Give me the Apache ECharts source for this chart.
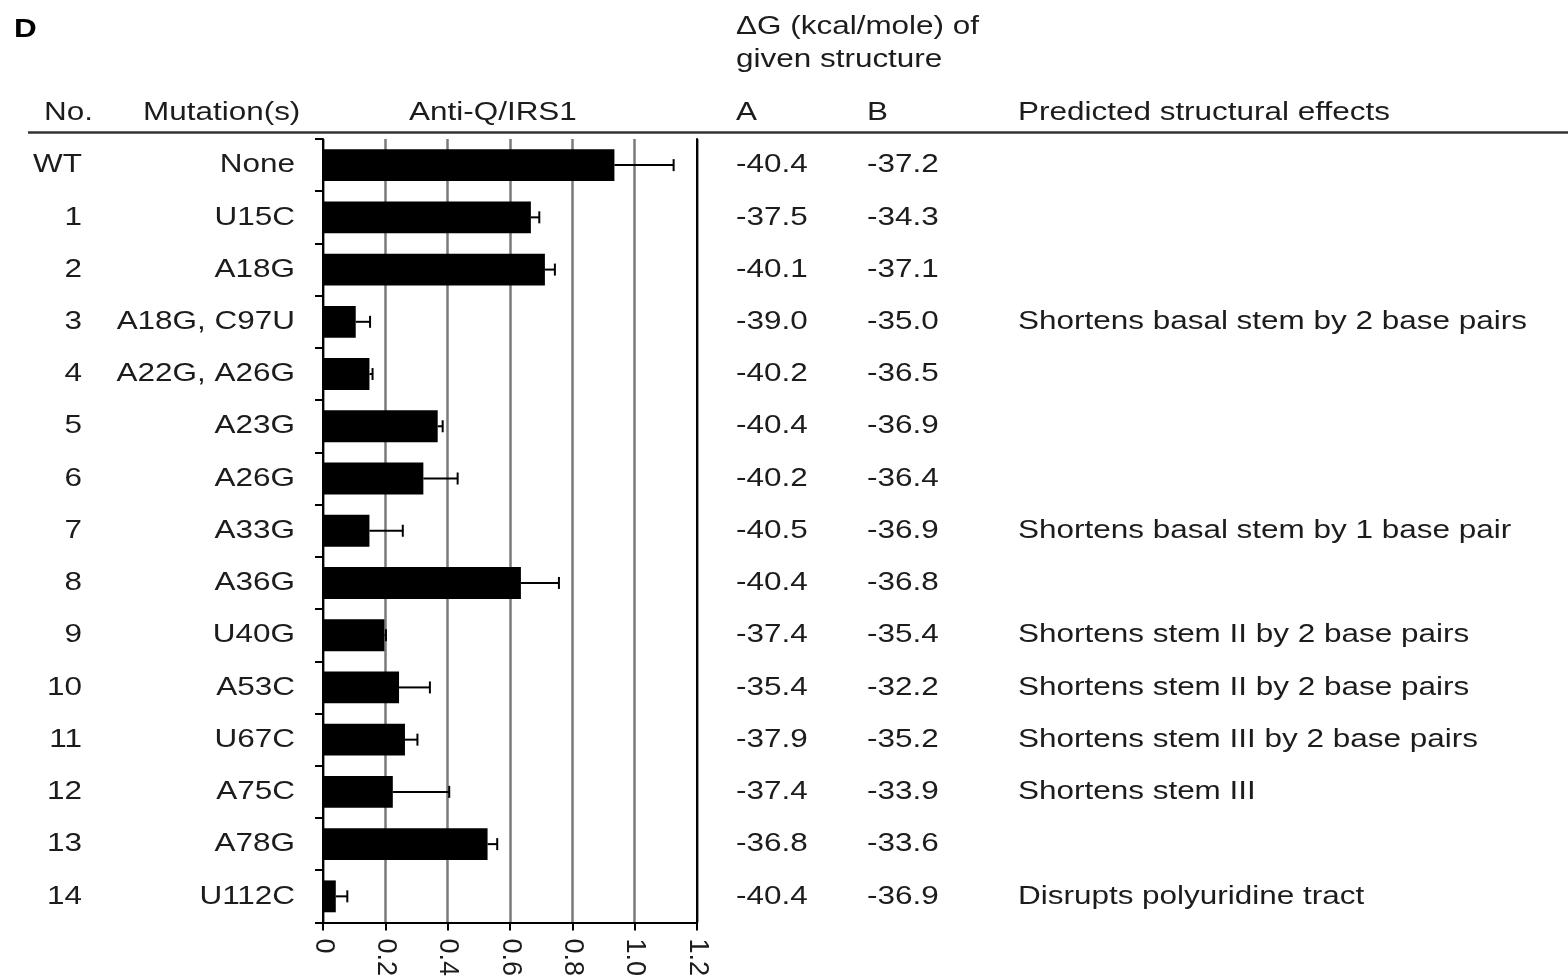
<!DOCTYPE html>
<html>
<head>
<meta charset="utf-8">
<script src="https://cdn.jsdelivr.net/npm/echarts@6/dist/echarts.min.js"></script>
<style>
  html, body { margin: 0; padding: 0; background: #ffffff; }
  #chart { width: 1568px; height: 979px; }
</style>
</head>
<body>
<div id="chart"></div>
<script>
// Table rows: construct number, mutations and measured Anti-Q/IRS1 activity
const rowNumbers = ['WT', '1', '2', '3', '4', '5', '6', '7', '8', '9', '10', '11', '12', '13', '14'];
const mutations = ['None', 'U15C', 'A18G', 'A18G, C97U', 'A22G, A26G', 'A23G', 'A26G', 'A33G',
  'A36G', 'U40G', 'A53C', 'U67C', 'A75C', 'A78G', 'U112C'];
const activity = [0.935, 0.667, 0.712, 0.105, 0.149, 0.368, 0.322, 0.149, 0.635, 0.197,
  0.244, 0.263, 0.224, 0.528, 0.041];
const activityErr = [0.19, 0.027, 0.032, 0.046, 0.010, 0.016, 0.110, 0.107, 0.122, 0.005,
  0.099, 0.040, 0.181, 0.031, 0.037];
// Free energies (kcal/mole) of structures A and B
const dGA = ['-40.4', '-37.5', '-40.1', '-39.0', '-40.2', '-40.4', '-40.2', '-40.5', '-40.4',
  '-37.4', '-35.4', '-37.9', '-37.4', '-36.8', '-40.4'];
const dGB = ['-37.2', '-34.3', '-37.1', '-35.0', '-36.5', '-36.9', '-36.4', '-36.9', '-36.8',
  '-35.4', '-32.2', '-35.2', '-33.9', '-33.6', '-36.9'];
const effects = ['', '', '', 'Shortens basal stem by 2 base pairs', '', '', '',
  'Shortens basal stem by 1 base pair', '', 'Shortens stem II by 2 base pairs',
  'Shortens stem II by 2 base pairs', 'Shortens stem III by 2 base pairs',
  'Shortens stem III', '', 'Disrupts polyuridine tract'];
// Activity axis
const axisMin = 0, axisMax = 1.2, axisStep = 0.2;

const FONT = '"Liberation Sans", Arial, Helvetica, sans-serif';
const TEXT = '#1c1c1c';
const FONT_SIZE = 26;
const WIDE = 1.21; // horizontal widening of the table lettering

// Table columns: text source, anchor x and alignment
const columns = [
  { texts: rowNumbers, x: 82, align: 'right' },
  { texts: mutations, x: 295, align: 'right' },
  { texts: dGA, x: 736, align: 'left' },
  { texts: dGB, x: 867, align: 'left' },
  { texts: effects, x: 1018, align: 'left' }
];

const chart = echarts.init(document.getElementById('chart'), null, { renderer: 'canvas' });

function headerText(str, x, y, bold) {
  return {
    type: 'text',
    x: x,
    y: y,
    scaleX: WIDE,
    style: {
      text: str,
      font: (bold ? 'bold ' : '') + FONT_SIZE + 'px ' + FONT,
      fill: bold ? '#000' : TEXT,
      align: 'left',
      verticalAlign: 'middle'
    }
  };
}

const option = {
  backgroundColor: '#ffffff',
  animation: false,
  grid: { left: 323, right: 871, top: 139, bottom: 56, containLabel: false },
  xAxis: {
    type: 'value',
    min: axisMin,
    max: axisMax,
    interval: axisStep,
    axisLine: { show: true, lineStyle: { color: '#000', width: 2 } },
    axisTick: { show: true, length: 8, lineStyle: { color: '#000', width: 2 } },
    splitLine: { show: true, lineStyle: { color: '#7a7a7a', width: 2.5 } },
    axisLabel: {
      rotate: -90,
      margin: 16,
      fontFamily: FONT,
      fontSize: 27,
      color: TEXT,
      formatter: v => (v === 0 ? '0' : v.toFixed(1))
    }
  },
  yAxis: [
    {
      type: 'category',
      data: mutations,
      inverse: true,
      position: 'left',
      axisLine: { show: true, lineStyle: { color: '#000', width: 2 } },
      axisTick: { show: true, length: 8, lineStyle: { color: '#000', width: 2 } },
      splitLine: { show: false },
      axisLabel: { show: false }
    },
    {
      type: 'category',
      data: mutations,
      inverse: true,
      position: 'right',
      axisLine: { show: true, lineStyle: { color: '#000', width: 2 } },
      axisTick: { show: false },
      splitLine: { show: false },
      axisLabel: { show: false }
    }
  ],
  series: [
    {
      type: 'bar',
      xAxisIndex: 0,
      yAxisIndex: 0,
      data: activity,
      barCategoryGap: '39%',
      itemStyle: { color: '#000' },
      z: 3
    },
    {
      // one-sided error bars with end caps
      type: 'custom',
      xAxisIndex: 0,
      yAxisIndex: 0,
      z: 4,
      data: activity.map((v, i) => [i, v, v + activityErr[i]]),
      encode: { x: [1, 2], y: 0 },
      renderItem: (params, api) => {
        const idx = api.value(0);
        const p0 = api.coord([api.value(1), idx]);
        const p1 = api.coord([api.value(2), idx]);
        const cap = 6;
        const style = { stroke: '#000', lineWidth: 2 };
        return {
          type: 'group',
          children: [
            { type: 'line', shape: { x1: p0[0], y1: p0[1], x2: p1[0], y2: p1[1] }, style: style },
            { type: 'line', shape: { x1: p1[0], y1: p1[1] - cap, x2: p1[0], y2: p1[1] + cap }, style: style }
          ]
        };
      }
    },
    {
      // table text, one row per category
      type: 'custom',
      xAxisIndex: 0,
      yAxisIndex: 0,
      clip: false,
      silent: true,
      z: 5,
      data: mutations.map((m, i) => [i, 0]),
      encode: { x: 1, y: 0 },
      renderItem: (params, api) => {
        const idx = api.value(0);
        const y = api.coord([0, idx])[1];
        return {
          type: 'group',
          children: columns.map(col => ({
            type: 'text',
            x: col.x,
            y: y,
            scaleX: WIDE,
            style: {
              text: col.texts[idx],
              font: FONT_SIZE + 'px ' + FONT,
              fill: TEXT,
              align: col.align,
              verticalAlign: 'middle'
            }
          }))
        };
      }
    }
  ],
  graphic: [
    headerText('D', 14, 30, true),
    headerText('\u0394G (kcal/mole) of', 736, 27, false),
    headerText('given structure', 736, 60, false),
    headerText('No.', 44, 113, false),
    headerText('Mutation(s)', 143, 113, false),
    headerText('Anti-Q/IRS1', 409, 113, false),
    headerText('A', 736, 113, false),
    headerText('B', 867, 113, false),
    headerText('Predicted structural effects', 1018, 113, false),
    { type: 'line', shape: { x1: 28, y1: 132.5, x2: 1568, y2: 132.5 }, style: { stroke: '#333', lineWidth: 2.5 } }
  ]
};

chart.setOption(option);
</script>
</body>
</html>
